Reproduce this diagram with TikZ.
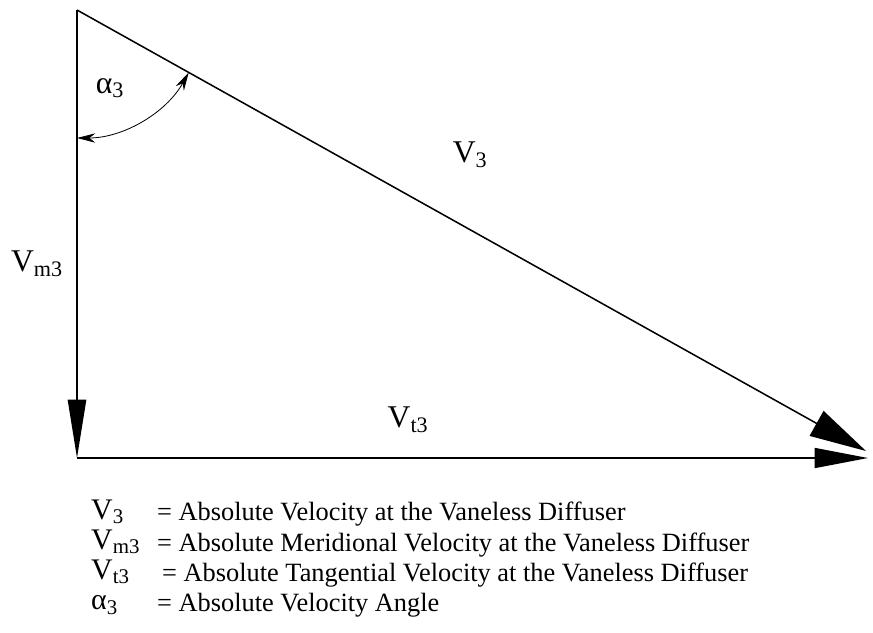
\documentclass[tikz,border=0pt]{standalone}
\usepackage{fontspec}
\setmainfont{Liberation Serif}
\usetikzlibrary{arrows.meta}

\newcommand{\lbl}{\fontsize{27}{31}\selectfont}
\newcommand{\leg}{\fontsize{25.5}{29}\selectfont}
\newcommand{\txt}{\fontsize{22.5}{26}\selectfont}

\begin{document}
\begin{tikzpicture}[x=0.03cm, y=-0.03cm,
    vec/.style={line width=1.3pt},
    sym/.style={anchor=west, inner sep=0pt, font=\leg},
    desc/.style={anchor=west, inner sep=0pt, font=\txt}]

\useasboundingbox (0,0) rectangle (873,632);

% Triangle corners
\coordinate (top) at (77,10);
\coordinate (corner) at (77,458);
\coordinate (vt) at (868,458);
\coordinate (v) at (866,451);

% Meridional component
\draw[vec, -{Triangle[length=1.75cm, width=0.55cm]}] (top) -- (corner);

% Tangential component
\draw[vec, -{Triangle[length=1.6cm, width=0.6cm]}] (corner) -- (vt);

% Absolute velocity
\draw[vec, -{Triangle[length=1.7cm, width=0.85cm]}] (top) -- (v);

% Angle alpha_3
\coordinate (a1) at (77,138);
\draw[line width=0.7pt, {Stealth[length=0.55cm, width=0.28cm]}-{Stealth[length=0.55cm, width=0.28cm]}]
  (a1) arc[start angle=-90, end angle=-29.2, radius=3.84cm];

% Labels
\node[font=\lbl] (alpha) at (110,88) {α\textsubscript{3}};
\node[font=\lbl] (vlbl) at (470,155) {V\textsubscript{3}};
\node[font=\lbl] (vmlbl) at (37,264) {V\textsubscript{m3}};
\node[font=\lbl] (vtlbl) at (408,420) {V\textsubscript{t3}};

% Legend
\node[sym] (s1) at (91,512) {V\textsubscript{3}};
\node[sym] (s2) at (91,542) {V\textsubscript{m3}};
\node[sym] (s3) at (91,572) {V\textsubscript{t3}};
\node[sym] (s4) at (91,605) {α\textsubscript{3}};
\node[desc] (d1) at (157,514) {= Absolute Velocity at the Vaneless Diffuser};
\node[desc] (d2) at (157,545) {= Absolute Meridional Velocity at the Vaneless Diffuser};
\node[desc] (d3) at (162,575) {= Absolute Tangential Velocity at the Vaneless Diffuser};
\node[desc] (d4) at (157,605) {= Absolute Velocity Angle};

\end{tikzpicture}
\end{document}
